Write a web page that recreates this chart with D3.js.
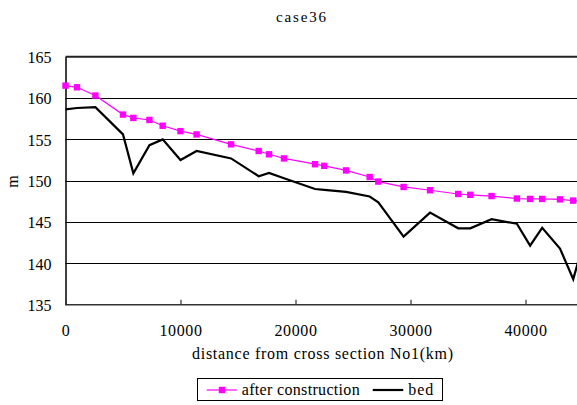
<!DOCTYPE html>
<html>
<head>
<meta charset="utf-8">
<script src="https://cdn.jsdelivr.net/npm/d3@7"></script>
<style>
  html, body { margin: 0; padding: 0; background: #fff; }
  svg { display: block; }
</style>
</head>
<body>
<script>
// Cross-section distances (m along the reach) and elevations
const distance = [0, 1000, 2600, 5000, 5900, 7300, 8450, 10000, 11400, 14400, 16800, 17700, 19000,
  21700, 22500, 24400, 26450, 27200, 29400, 31700, 34150, 35200, 37050, 39250, 40400, 41450, 43000, 44150, 45500];
const afterConstruction = [161.5, 161.3, 160.3, 158.0, 157.6, 157.35, 156.65, 156.0, 155.6, 154.4, 153.6, 153.2, 152.7,
  152.0, 151.8, 151.25, 150.45, 149.9, 149.25, 148.85, 148.4, 148.3, 148.15, 147.85, 147.8, 147.8, 147.75, 147.6, 147.5];
const bed = [158.64, 158.8, 158.9, 155.6, 150.9, 154.3, 155.0, 152.5, 153.6, 152.7, 150.55, 150.95, 150.3,
  149.0, 148.9, 148.65, 148.1, 147.4, 143.25, 146.15, 144.25, 144.25, 145.35, 144.8, 142.15, 144.3, 141.8, 138.1, 144.7];
const xTicks = [0, 10000, 20000, 30000, 40000];
const yTicks = [135, 140, 145, 150, 155, 160, 165];
const seriesNames = ["after construction", "bed"];

const SERIF = "'Liberation Serif'";
const W = 577, H = 405;
const svg = d3.select("body").append("svg").attr("width", W).attr("height", H)
  .style("font-family", SERIF);

const x = d3.scaleLinear().domain([0, 50000]).range([65.5, 640.5]);
const y = d3.scaleLinear().domain([135, 165]).range([304.8, 56.7]);

// title
svg.append("text").attr("x", 301).attr("y", 22).attr("text-anchor", "middle")
  .style("font-family", SERIF).attr("font-size", 15)
  .attr("textLength", 50).attr("lengthAdjust", "spacing").text("case36");

// horizontal gridlines
svg.append("g").selectAll("line").data(yTicks.filter(v => v > 135 && v < 165)).join("line")
  .attr("x1", x(0)).attr("x2", W + 10)
  .attr("y1", d => Math.round(y(d)) + 0.5).attr("y2", d => Math.round(y(d)) + 0.5)
  .attr("stroke", "#000").attr("stroke-width", 1.2);

// top border
svg.append("line").attr("x1", x(0)).attr("x2", W + 10)
  .attr("y1", y(165)).attr("y2", y(165)).attr("stroke", "#222").attr("stroke-width", 2);

// y axis
const yAxis = d3.axisLeft(y).tickValues(yTicks).tickSize(0).tickPadding(14).tickFormat(d3.format("d"));
const gy = svg.append("g").attr("transform", `translate(${x(0)},0)`).call(yAxis)
  .attr("font-family", null).style("font-family", SERIF);
gy.select(".domain").attr("stroke", "#000").attr("stroke-width", 1.5);
gy.selectAll("text").style("font-family", SERIF).attr("font-size", 16).attr("fill", "#000").attr("dy", "0.36em");

// x axis with inward ticks
const xAxis = d3.axisBottom(x).tickValues(xTicks).tickSizeInner(-5).tickSizeOuter(0).tickPadding(22).tickFormat(d3.format("d"));
const gx = svg.append("g").attr("transform", `translate(0,${y(135)})`).call(xAxis)
  .attr("font-family", null).style("font-family", SERIF);
gx.select(".domain").attr("stroke", "#333").attr("stroke-width", 1.5).attr("d", `M${x(0)},0H${W + 10}`);
gx.selectAll(".tick line").attr("stroke", "#333").attr("stroke-width", 1.2);
gx.selectAll("text").style("font-family", SERIF).attr("font-size", 16).attr("fill", "#000")
  .attr("letter-spacing", "0.6px").attr("dy", "0.55em");

// axis titles
svg.append("text").attr("x", 322.5).attr("y", 359).attr("text-anchor", "middle")
  .style("font-family", SERIF).attr("font-size", 16)
  .attr("textLength", 261).attr("lengthAdjust", "spacing").text("distance from cross section No1(km)");
svg.append("text").attr("transform", "translate(18,181.5) rotate(-90)").attr("text-anchor", "middle")
  .style("font-family", SERIF).attr("font-size", 16).text("m");

// series
const pts = distance.map((d, i) => ({ d, a: afterConstruction[i], b: bed[i] }));
const lineA = d3.line().x(p => x(p.d)).y(p => y(p.a));
const lineB = d3.line().x(p => x(p.d)).y(p => y(p.b));

svg.append("path").datum(pts).attr("d", lineB).attr("fill", "none")
  .attr("stroke", "#000").attr("stroke-width", 2.2).attr("stroke-linejoin", "miter");
svg.append("path").datum(pts).attr("d", lineA).attr("fill", "none")
  .attr("stroke", "#ff00ff").attr("stroke-width", 1.2);
svg.append("g").selectAll("rect").data(pts).join("rect")
  .attr("x", p => x(p.d) - 3.2).attr("y", p => y(p.a) - 3.2)
  .attr("width", 6.4).attr("height", 6.4).attr("fill", "#ff00ff");

// legend
const lg = svg.append("g");
lg.append("rect").attr("x", 197.5).attr("y", 378.5).attr("width", 245).attr("height", 22)
  .attr("fill", "#fff").attr("stroke", "#000").attr("stroke-width", 1);
lg.append("line").attr("x1", 206.7).attr("x2", 236.7).attr("y1", 390).attr("y2", 390)
  .attr("stroke", "#ff00ff").attr("stroke-width", 1.2);
lg.append("rect").attr("x", 222 - 3.2).attr("y", 390 - 3.2).attr("width", 6.4).attr("height", 6.4).attr("fill", "#ff00ff");
lg.append("text").attr("x", 241.7).attr("y", 395).style("font-family", SERIF).attr("font-size", 16)
  .attr("textLength", 118).attr("lengthAdjust", "spacing").text(seriesNames[0]);
lg.append("line").attr("x1", 372.7).attr("x2", 403.3).attr("y1", 390).attr("y2", 390)
  .attr("stroke", "#000").attr("stroke-width", 2.2);
lg.append("text").attr("x", 408.3).attr("y", 395).style("font-family", SERIF).attr("font-size", 16)
  .attr("textLength", 25).attr("lengthAdjust", "spacing").text(seriesNames[1]);
</script>
</body>
</html>
